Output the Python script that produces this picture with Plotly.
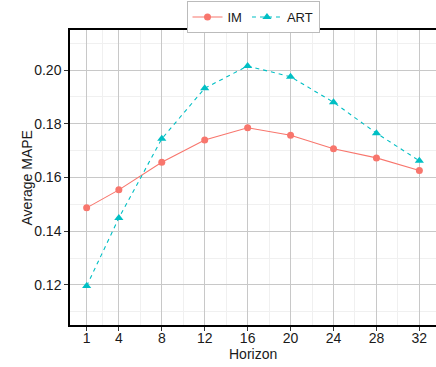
import plotly.graph_objects as go

horizon = [1, 4, 8, 12, 16, 20, 24, 28, 32]
im_vals = [0.1487, 0.1554, 0.1657, 0.1740, 0.1785, 0.1757, 0.1707, 0.1673, 0.1626]
art_vals = [0.1196, 0.1449, 0.1744, 0.1932, 0.2015, 0.1975, 0.1880, 0.1765, 0.1662]
x_ticks = [1, 4, 8, 12, 16, 20, 24, 28, 32]
y_ticks = [0.12, 0.14, 0.16, 0.18, 0.20]

IM_COLOR = "#F8766D"
ART_COLOR = "#00BFC4"
FONT = "Liberation Sans, Arial, sans-serif"

fig = go.Figure()
fig.add_trace(go.Scatter(
    x=horizon, y=im_vals, name="IM", mode="lines+markers",
    line=dict(color=IM_COLOR, width=1.1),
    marker=dict(symbol="circle", size=7, color=IM_COLOR),
))
fig.add_trace(go.Scatter(
    x=horizon, y=art_vals, name="ART", mode="lines+markers",
    line=dict(color=ART_COLOR, width=1.1, dash="4px,4px"),
    marker=dict(symbol="triangle-up", size=8, color=ART_COLOR),
))

x_minor = [(a + b) / 2 for a, b in zip(x_ticks[:-1], x_ticks[1:])]
y_minor = [0.11, 0.13, 0.15, 0.17, 0.19, 0.21]

fig.update_layout(
    width=436, height=367,
    margin=dict(l=70, r=0, t=30, b=42, autoexpand=False),
    paper_bgcolor="white", plot_bgcolor="white",
    font=dict(family=FONT, size=13, color="#1a1a1a"),
    showlegend=True,
    legend=dict(
        orientation="h", x=0.5, xanchor="center", y=0.997, yanchor="top",
        yref="container", xref="paper",
        bordercolor="#BBBBBB", borderwidth=1, bgcolor="white",
        font=dict(size=13, color="#1a1a1a"),
        itemwidth=30, tracegroupgap=0,
    ),
    xaxis=dict(
        range=[-0.55, 33.55], tickmode="array", tickvals=x_ticks,
        ticktext=[str(v) for v in x_ticks],
        showgrid=True, gridcolor="#C8C8C8", gridwidth=1,
        minor=dict(tickvals=x_minor, showgrid=True, gridcolor="#F0F0F0", gridwidth=1),
        showline=True, linecolor="black", linewidth=1.5, mirror=True,
        ticks="outside", ticklen=4, tickcolor="#333333",
        ticklabelstandoff=-5,
        zeroline=False, automargin=False,
        tickfont=dict(size=14, color="#1a1a1a"),
    ),
    yaxis=dict(
        range=[0.1051, 0.2149], tickmode="array", tickvals=y_ticks,
        ticktext=["%.2f" % v for v in y_ticks],
        showgrid=True, gridcolor="#C8C8C8", gridwidth=1,
        minor=dict(tickvals=y_minor, showgrid=True, gridcolor="#F0F0F0", gridwidth=1),
        showline=True, linecolor="black", linewidth=1.5, mirror=True,
        ticks="outside", ticklen=4, tickcolor="#333333",
        zeroline=False, automargin=False,
        tickfont=dict(size=14, color="#1a1a1a"),
    ),
    annotations=[
        dict(text="Horizon", xref="paper", yref="paper", x=0.5, y=-0.097,
             xanchor="center", yanchor="middle", showarrow=False,
             font=dict(size=14, color="#1a1a1a")),
        dict(text="Average MAPE", xref="paper", yref="paper", x=-0.1175, y=0.5,
             xanchor="center", yanchor="middle", showarrow=False, textangle=-90,
             font=dict(size=14, color="#1a1a1a")),
    ],
)

fig.write_html(
    "out.html",
    config={"displayModeBar": False},
    post_script="document.body.style.margin='0';document.body.style.padding='0';",
)
